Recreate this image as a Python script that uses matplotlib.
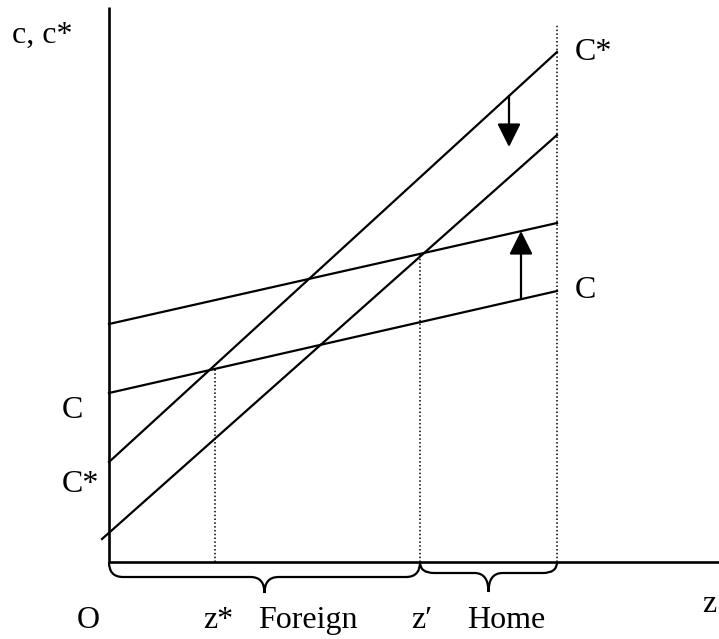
import matplotlib
matplotlib.use("Agg")
import matplotlib.pyplot as plt
from matplotlib.path import Path
from matplotlib.patches import PathPatch

plt.rcParams['font.family'] = ['Liberation Serif', 'DejaVu Serif']

# ---- data (schematic units: z horizontal, c vertical) ----
z_range = [0, 448]
cstar_orig = [100, 510]        # C* schedule (before shift)
cstar_new_z = [-7, 448]
cstar_new = [23, 427]          # C* schedule (shifted down)
c_orig = [169, 271]            # C schedule (before shift)
c_new = [238, 339]             # C schedule (shifted up)

z_star, z_star_top = 106, 193
z_prime, z_prime_top = 311, 308
z_max, z_max_top = 448, 537

yaxis_top = 555
xaxis_right = 610

down_arrow = dict(z=400, c_from=466, c_to=415)
up_arrow = dict(z=412, c_from=263, c_to=331)

labels = [
    ("c, c*", -97, 519, 'left'),
    ("C*", 466, 502, 'left'),
    ("C", 466, 264, 'left'),
    ("C", -47, 144, 'left'),
    ("C*", -47, 70, 'left'),
    ("O", -21, -66, 'center'),
    ("z*", 109, -66, 'center'),
    ("Foreign", 199, -66, 'center'),
    ("z\u2032", 313, -66, 'center'),
    ("Home", 397, -66, 'center'),
    ("z", 600, -50, 'center'),
]

braces = [(0, z_prime, 15, 31), (z_prime, z_max, 11, 30)]

fig = plt.figure(figsize=(7.19, 6.39), dpi=100)
ax = fig.add_axes([0, 0, 1, 1])
ax.set_xlim(-109, 610)
ax.set_ylim(-77, 562)
ax.axis('off')

lw = 1.6
# axes
ax.plot([0, 0], [0, yaxis_top], color='black', lw=1.9, solid_capstyle='butt')
ax.plot([0, xaxis_right], [0, 0], color='black', lw=1.9, solid_capstyle='butt')

# schedules
ax.plot(z_range, cstar_orig, color='black', lw=lw)
ax.plot(cstar_new_z, cstar_new, color='black', lw=lw)
ax.plot(z_range, c_orig, color='black', lw=lw)
ax.plot(z_range, c_new, color='black', lw=lw)

# dotted verticals
for zz, top in [(z_star, z_star_top), (z_prime, z_prime_top), (z_max, z_max_top)]:
    ax.plot([zz, zz], [0, top], color='black', lw=1.1, ls=(0, (1, 1.5)))

# arrows
for a in (down_arrow, up_arrow):
    ax.annotate('', xy=(a['z'], a['c_to']), xytext=(a['z'], a['c_from']),
                arrowprops=dict(arrowstyle='-|>,head_length=0.8,head_width=0.4',
                                mutation_scale=18, lw=1.6, color='black',
                                shrinkA=0, shrinkB=0))

# braces
def brace(z0, z1, h1, h2, top=0):
    zm = (z0 + z1) / 2
    r = min(14, (z1 - z0) / 6)
    verts = [
        (z0, top),
        (z0, top - h1), (z0 + r, top - h1),
        (zm - r, top - h1),
        (zm, top - h1), (zm, top - h2),
        (zm, top - h1), (zm + r, top - h1),
        (z1 - r, top - h1),
        (z1, top - h1), (z1, top),
    ]
    codes = [Path.MOVETO,
             Path.CURVE3, Path.CURVE3,
             Path.LINETO,
             Path.CURVE3, Path.CURVE3,
             Path.CURVE3, Path.CURVE3,
             Path.LINETO,
             Path.CURVE3, Path.CURVE3]
    ax.add_patch(PathPatch(Path(verts, codes), fill=False, lw=1.6, color='black'))

for b in braces:
    brace(*b)

for txt, zz, cc, ha in labels:
    ax.text(zz, cc, txt, fontsize=23, ha=ha, va='baseline', color='black')

fig.savefig('out.png', dpi=100)
